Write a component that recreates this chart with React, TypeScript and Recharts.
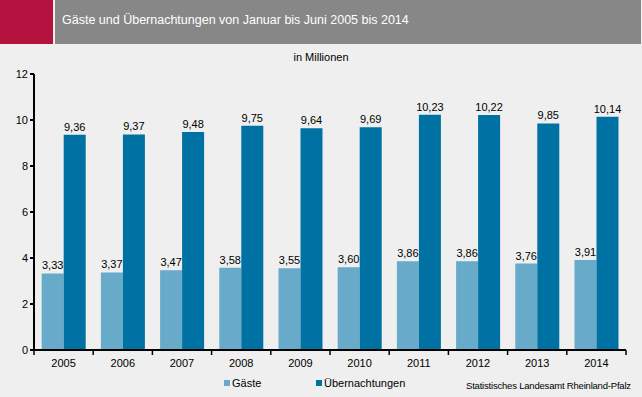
import React from 'react';
import { BarChart, Bar, XAxis, YAxis, LabelList } from 'recharts';

const years = ['2005', '2006', '2007', '2008', '2009', '2010', '2011', '2012', '2013', '2014'];
const gaeste = [3.33, 3.37, 3.47, 3.58, 3.55, 3.6, 3.86, 3.86, 3.76, 3.91];
const uebernachtungen = [9.36, 9.37, 9.48, 9.75, 9.64, 9.69, 10.23, 10.22, 9.85, 10.14];
const yTicks = [0, 2, 4, 6, 8, 10, 12];

const title = 'Gäste und Übernachtungen von Januar bis Juni 2005 bis 2014';
const unitLabel = 'in Millionen';
const sourceLabel = 'Statistisches Landesamt Rheinland-Pfalz';
const seriesNames = ['Gäste', 'Übernachtungen'];

const data = years.map((y, i) => ({ year: y, g: gaeste[i], u: uebernachtungen[i] }));

const W = 642;
const H = 397;
const M = { top: 74, right: 16, bottom: 17, left: 0 };
const YW = 34;
const plotW = W - M.left - M.right - YW;
const band = plotW / years.length;

const FONT = '"Liberation Sans", Arial, sans-serif';
const LIGHT = '#67aac9';
const DARK = '#0071a3';
const BG = '#eeefee';

const fmt = (v: any) => Number(v).toFixed(2).replace('.', ',');

const XTick = (props: any) => {
  const { x, y, payload, index } = props;
  const half = band / 2;
  return (
    <g>
      <line x1={x - half} x2={x - half} y1={y - 8} y2={y - 3} stroke="#000" strokeWidth={1.5} />
      {index === years.length - 1 && (
        <line x1={x + half} x2={x + half} y1={y - 8} y2={y - 3} stroke="#000" strokeWidth={1.5} />
      )}
      <text x={x} y={y + 9} textAnchor="middle" fontSize={11} fontFamily={FONT} fill="#000">
        {payload.value}
      </text>
    </g>
  );
};

export default function App() {
  return (
    <div style={{ position: 'absolute', left: 0, top: 0, width: W, height: H, background: BG, fontFamily: FONT, overflow: 'hidden' }}>
      <div style={{ position: 'absolute', left: 0, top: 0, width: 53, height: 44, background: '#b5123f' }} />
      <div style={{ position: 'absolute', left: 55, top: 0, width: 586, height: 44, background: '#878787' }} />
      <div style={{ position: 'absolute', left: 62, top: 12, color: '#fff', fontSize: 12.5, lineHeight: '16px', whiteSpace: 'nowrap' }}>
        {title}
      </div>
      <div style={{ position: 'absolute', left: 0, width: W, top: 50, textAlign: 'center', color: '#000', fontSize: 11, lineHeight: '14px' }}>
        {unitLabel}
      </div>
      <BarChart width={W} height={H} data={data} margin={M} barCategoryGap="13%" barGap={0}>
        <XAxis
          dataKey="year"
          axisLine={{ stroke: '#000', strokeWidth: 2 }}
          tickLine={false}
          tick={<XTick />}
          height={30}
          interval={0}
        />
        <YAxis
          width={YW}
          domain={[0, 12]}
          ticks={yTicks}
          axisLine={{ stroke: '#000', strokeWidth: 2 }}
          tickLine={{ stroke: '#000', strokeWidth: 2 }}
          tickSize={4}
          tick={{ fontSize: 11, fontFamily: FONT, fill: '#000' }}
        />
        <Bar dataKey="g" fill={LIGHT} isAnimationActive={false}>
          <LabelList dataKey="g" position="top" offset={4} formatter={fmt} style={{ fontSize: 11, fontFamily: FONT, fill: '#000' }} />
        </Bar>
        <Bar dataKey="u" fill={DARK} isAnimationActive={false}>
          <LabelList dataKey="u" position="top" offset={4} formatter={fmt} style={{ fontSize: 11, fontFamily: FONT, fill: '#000' }} />
        </Bar>
      </BarChart>
      <div style={{ position: 'absolute', left: 224, top: 377, display: 'flex', alignItems: 'center', fontSize: 11, color: '#000', whiteSpace: 'nowrap' }}>
        <span style={{ display: 'inline-block', width: 6, height: 6, background: LIGHT, marginRight: 2 }} />
        <span>{seriesNames[0]}</span>
      </div>
      <div style={{ position: 'absolute', left: 316, top: 377, display: 'flex', alignItems: 'center', fontSize: 11, color: '#000', whiteSpace: 'nowrap' }}>
        <span style={{ display: 'inline-block', width: 6, height: 6, background: DARK, marginRight: 2 }} />
        <span>{seriesNames[1]}</span>
      </div>
      <div style={{ position: 'absolute', left: 466, top: 380, fontSize: 9.5, color: '#000', whiteSpace: 'nowrap', letterSpacing: '-0.2px' }}>
        {sourceLabel}
      </div>
    </div>
  );
}
